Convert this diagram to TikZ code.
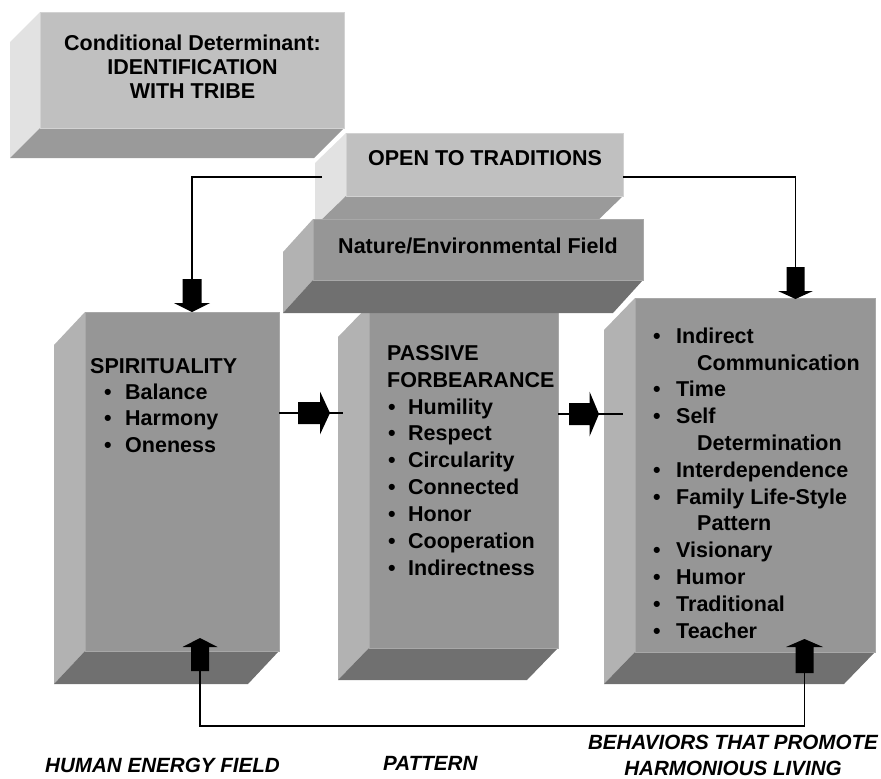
\documentclass[tikz,border=0pt]{standalone}
\usepackage{fontspec}
\setmainfont{Liberation Sans}
\usetikzlibrary{fit}
\definecolor{lightF}{HTML}{C0C0C0}
\definecolor{lightS}{HTML}{E2E2E2}
\definecolor{lightB}{HTML}{9A9A9A}
\definecolor{lightE}{HTML}{D2D2D2}
\definecolor{midF}{HTML}{969696}
\definecolor{midS}{HTML}{B2B2B2}
\definecolor{midB}{HTML}{707070}
\definecolor{midE}{HTML}{A8A8A8}
% #1 name, #2 x1, #3 y1, #4 x2, #5 y2, #6 depth x, #7 depth y, #8 palette
\newcommand\bevelbox[8]{%
  \fill[#8S] (#2,#3) -- ({#2-#6},{#3+#7}) -- ({#2-#6},{#5+#7}) -- (#2,#5) -- cycle;
  \fill[#8B] (#2,#5) -- (#4,#5) -- ({#4-#6},{#5+#7}) -- ({#2-#6},{#5+#7}) -- cycle;
  \node[fit={(#2,#3) (#4,#5)}, inner sep=0pt, fill=#8F, draw=#8E, line width=0.8pt] (#1) {};
}
% #1 tip, #2 rotation, #3 total length, #4 head length, #5 head half width, #6 shaft half width
\newcommand\blockarr[6]{%
  \fill[black, shift={(#1)}, rotate=#2] (0,0) -- (-#4,#5) -- (-#4,#6) -- (-#3,#6)
    -- (-#3,-#6) -- (-#4,-#6) -- (-#4,-#5) -- cycle;
}
\newcommand\bl[2]{\makebox[#2pt][l]{\hspace*{#1pt}•}}
\begin{document}
\begin{tikzpicture}[x=1pt,y=-1pt,
  boxtext/.style={inner sep=0pt, align=left, font=\fontsize{21.5}{26.8}\selectfont\bfseries},
  lab/.style={inner sep=0pt, align=center, font=\fontsize{20.6}{26}\selectfont\bfseries\itshape},
  conn/.style={line width=1.2pt, black}]
\useasboundingbox (0,0) rectangle (881,779);

% boxes
\bevelbox{b1}{40}{12}{344}{128}{30}{30}{light}
\bevelbox{b2}{346}{133}{623}{196}{31}{30}{light}
\bevelbox{b5}{369}{305}{558}{648}{31}{32}{mid}
\bevelbox{b3}{313}{219}{643}{280}{30}{33}{mid}
\bevelbox{b4}{85}{312}{279}{651}{31}{33}{mid}
\bevelbox{b6}{635}{298}{875}{652}{31}{32}{mid}

% texts
\node[boxtext, align=center, anchor=north, font=\fontsize{21.5}{24}\selectfont\bfseries] (t1) at (192.5,34)
  {\rule{0pt}{16pt}Conditional Determinant:\\IDENTIFICATION\\WITH TRIBE};
\node[boxtext, anchor=base] (t2) at (485,165) {OPEN TO TRADITIONS};
\node[boxtext, anchor=base] (t3) at (478,253) {Nature/Environmental Field};
\node[boxtext, anchor=north west, font=\fontsize{21.5}{26.3}\selectfont\bfseries] (t4) at (90,357)
  {\rule{0pt}{16pt}SPIRITUALITY\\\bl{14}{35}Balance\\\bl{14}{35}Harmony\\\bl{14}{35}Oneness};
\node[boxtext, anchor=north west, font=\fontsize{21.5}{26.9}\selectfont\bfseries] (t5) at (387,344)
  {\rule{0pt}{16pt}PASSIVE\\FORBEARANCE\\\bl{1}{21}Humility\\\bl{1}{21}Respect\\\bl{1}{21}Circularity\\\bl{1}{21}Connected\\\bl{1}{21}Honor\\\bl{1}{21}Cooperation\\\bl{1}{21}Indirectness};
\node[boxtext, anchor=north west] (t6) at (653,327)
  {\rule{0pt}{16pt}\bl{0}{23}Indirect\\\hspace*{44pt}Communication\\\bl{0}{23}Time\\\bl{0}{23}Self\\\hspace*{44pt}Determination\\\bl{0}{23}Interdependence\\\bl{0}{23}Family Life-Style\\\hspace*{44pt}Pattern\\\bl{0}{23}Visionary\\\bl{0}{23}Humor\\\bl{0}{23}Traditional\\\bl{0}{23}Teacher};

% labels
\node[lab, anchor=base west] (l1) at (45,772) {HUMAN ENERGY FIELD};
\node[lab, anchor=base west] (l2) at (383,770) {PATTERN};
\node[lab, anchor=north] (l3) at (733,733) {\rule{0pt}{16pt}BEHAVIORS THAT PROMOTE\\HARMONIOUS LIVING};

% connector coordinates
\coordinate (c2L) at (322,177);
\coordinate (c2R) at (623,177);
\coordinate (d4tip) at (192,312);
\coordinate (d4tail) at (192,279);
\coordinate (d6tip) at (795.5,299);
\coordinate (d6tail) at (795.5,267);
\coordinate (r45s) at (279,413);
\coordinate (r45e) at (343,413);
\coordinate (r45tip) at (330,413);
\coordinate (r56s) at (558,414);
\coordinate (r56e) at (623,414);
\coordinate (r56tip) at (599,414);
\coordinate (u4tip) at (200,638);
\coordinate (u4tail) at (200,671);
\coordinate (u6tip) at (804.5,639);
\coordinate (u6tail) at (804.5,673);
\coordinate (lowL) at (200,726);

% connectors
\draw[conn] (c2L) -| (d4tail);
\draw[conn] (c2R) -| (d6tail);
\draw[conn] (r45s) -- (r45e);
\draw[conn] (r56s) -- (r56e);
\draw[conn] (u4tail) -- (lowL) -| (u6tail);

% block arrows
\blockarr{d4tip}{-90}{33}{9}{18}{9.5}
\blockarr{d6tip}{-90}{32}{8}{17.5}{9}
\blockarr{r45tip}{0}{32}{10}{21.5}{11}
\blockarr{r56tip}{0}{30}{9.5}{22.5}{11}
\blockarr{u4tip}{90}{33}{9}{17.5}{9}
\blockarr{u6tip}{90}{34}{8}{18.5}{9}
\end{tikzpicture}
\end{document}
